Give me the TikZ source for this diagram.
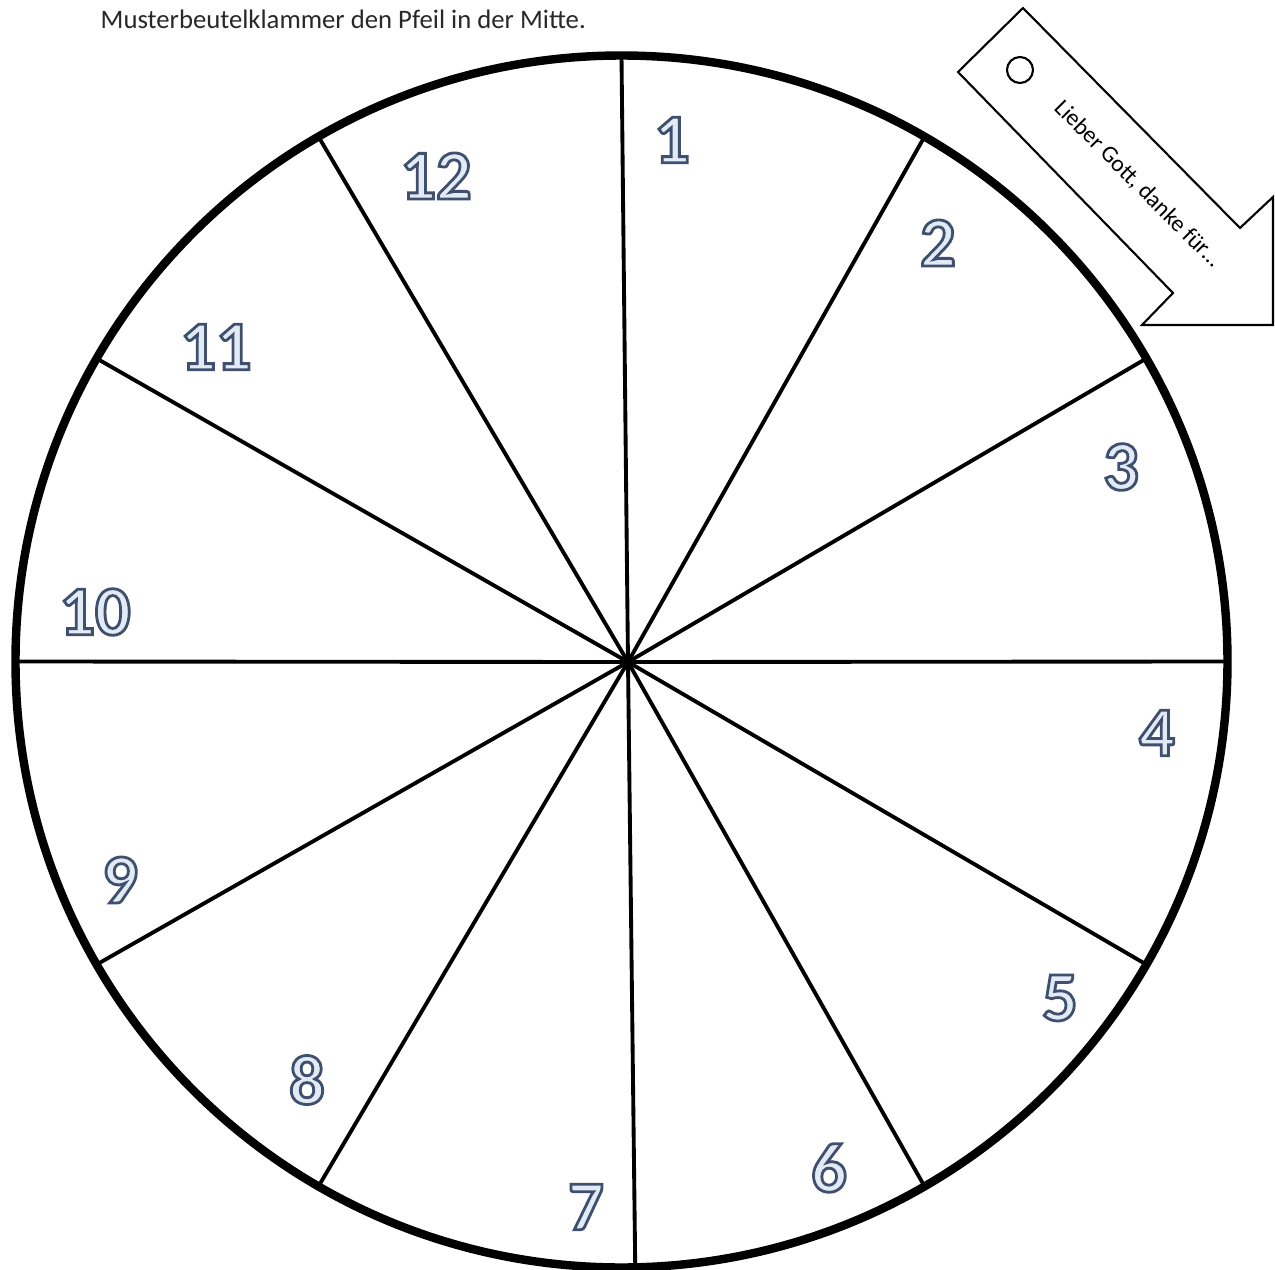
\documentclass[tikz,border=0pt]{standalone}
\usepackage{fontspec}
\setmainfont{Carlito}
\definecolor{numline}{RGB}{62,80,110}
\definecolor{numfill}{RGB}{226,234,246}
\definecolor{captiongray}{RGB}{40,40,40}
% outlined digits: fill, then stroke the glyph outline
\newcommand{\numtext}[1]{{\color{numfill}%
  \special{pdf:literal direct 2 Tr 0.8 w 0.243 0.314 0.431 RG}#1%
  \special{pdf:literal direct 0 Tr}}}
\tikzset{
  num/.style={font=\fontsize{20}{20}\selectfont\bfseries, inner sep=0pt},
  spoke/.style={line width=1.1pt},
  rim/.style={line width=2.4pt},
  tagline/.style={line width=0.6pt}
}
\begin{document}
\begin{tikzpicture}

  % Page frame: 12.75 x 12.70 (1 px = 0.01 cm)
  \useasboundingbox (0,0) rectangle (12.75,-12.70);

  % Circle centre and hub of the spokes
  \coordinate (c)   at (6.215,-6.615);
  \coordinate (hub) at (6.28,-6.62);

  % Caption line (cut at top)
  \node[anchor=west, inner sep=0pt, text=captiongray, font=\fontsize{7.6}{8}\selectfont] (caption)
    at (1.00,-0.19) {Musterbeutelklammer den Pfeil in der Mitte.};

  % Spokes
  \foreach \a in {0,30,60,90,120,150,180,210,240,300,330} {
    \draw[spoke] (hub) -- ([shift={(\a:6.06)}]c);
  }
  \draw[spoke] (hub) -- ([shift={(271.3:6.06)}]c);

  % Rim
  \draw[rim] (c) circle (6.06);

  % Numbers
  \node[num] (n1)  at ( 6.72, -1.40) {\numtext{1}};
  \node[num] (n2)  at ( 9.38, -2.43) {\numtext{2}};
  \node[num] (n3)  at (11.21, -4.67) {\numtext{3}};
  \node[num] (n4)  at (11.57, -7.33) {\numtext{4}};
  \node[num] (n5)  at (10.60, -9.98) {\numtext{5}};
  \node[num] (n6)  at ( 8.29,-11.68) {\numtext{6}};
  \node[num] (n7)  at ( 5.86,-12.07) {\numtext{7}};
  \node[num] (n8)  at ( 3.07,-10.80) {\numtext{8}};
  \node[num] (n9)  at ( 1.20, -8.80) {\numtext{9}};
  \node[num] (n10) at ( 0.95, -6.12) {\numtext{10}};
  \node[num] (n11) at ( 2.16, -3.47) {\numtext{11}};
  \node[num] (n12) at ( 4.36, -1.76) {\numtext{12}};

  % Arrow tag
  \draw[tagline, fill=white] (9.58,-0.72) -- (10.23,-0.08) -- (12.40,-2.28)
    -- (12.73,-1.97) -- (12.73,-3.25) -- (11.42,-3.25) -- (11.73,-2.93) -- cycle;
  \draw[tagline] (10.20,-0.70) circle (0.13);
  \node[rotate=-45, inner sep=0pt, font=\fontsize{6.7}{7}\selectfont] (tagtext)
    at (11.38,-1.84) {Lieber Gott, danke für\ldots};

\end{tikzpicture}
\end{document}
